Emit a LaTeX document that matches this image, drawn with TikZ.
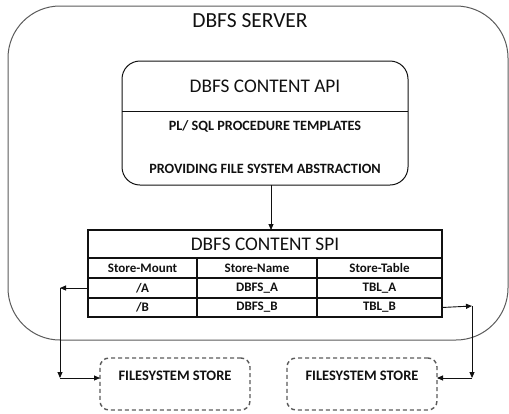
\documentclass[tikz,border=0pt]{standalone}
\usepackage{fontspec}
\setmainfont{Carlito}
\usetikzlibrary{arrows.meta,calc}
\definecolor{frame}{HTML}{5A5A5A}
\definecolor{ink}{HTML}{111111}
\begin{document}
\begin{tikzpicture}[x=1pt,y=-1pt,
  every node/.style={inner sep=0pt,outer sep=0pt,text=ink},
  bigtitle/.style={font=\fontsize{21.5}{24}\selectfont},
  midtitle/.style={font=\fontsize{19.3}{22}\selectfont},
  boldtext/.style={font=\bfseries\fontsize{14.2}{16}\selectfont},
  celltext/.style={font=\bfseries\fontsize{13}{15}\selectfont},
  storetext/.style={font=\bfseries\fontsize{14.5}{16}\selectfont},
  cell/.style={draw=ink,line width=1.1pt,minimum height=20pt},
  storebox/.style={draw=frame,dashed,dash pattern=on 4pt off 3pt,line width=1.4pt,
    rounded corners=9pt,minimum width=150pt,minimum height=52pt},
  link/.style={draw=ink,line width=0.9pt,-{Triangle[length=6pt,width=5pt]}}]
\useasboundingbox (0,0) rectangle (509,413);

% server frame
\node[draw=frame,line width=1pt,rounded corners=52pt,minimum width=500pt,
  minimum height=334pt] (server) at (258,173) {};
\node[bigtitle] (servertitle) at (250,21) {DBFS SERVER};

% content API box
\node[draw=ink,line width=1pt,rounded corners=18pt,minimum width=286pt,
  minimum height=124pt] (api) at (265,123) {};
\draw[ink,line width=1pt] ($(api.north west)+(0,50)$) -- ($(api.north east)+(0,50)$);
\node[midtitle] (apititle) at (265,86) {DBFS CONTENT API};
\node[boldtext] (apiline1) at (265,126) {PL/ SQL PROCEDURE TEMPLATES};
\node[boldtext] (apiline2) at (265,169) {PROVIDING FILE SYSTEM ABSTRACTION};

% content SPI table
\node[cell,minimum width=354pt,minimum height=28pt,midtitle] (spi) at (265,244) {DBFS CONTENT SPI};
\node[cell,minimum width=109pt,celltext] (h1) at (142.5,268) {Store-Mount};
\node[cell,minimum width=120pt,celltext] (h2) at (257,268) {Store-Name};
\node[cell,minimum width=125pt,celltext] (h3) at (379.5,268) {Store-Table};
\node[cell,minimum width=109pt,celltext] (a1) at (142.5,288) {/A};
\node[cell,minimum width=120pt,celltext] (a2) at (257,288) {DBFS\_A};
\node[cell,minimum width=125pt,celltext] (a3) at (379.5,288) {TBL\_A};
\node[cell,minimum width=109pt,minimum height=19pt,celltext] (b1) at (142.5,307.5) {/B};
\node[cell,minimum width=120pt,minimum height=19pt,celltext] (b2) at (257,307.5) {DBFS\_B};
\node[cell,minimum width=125pt,minimum height=19pt,celltext] (b3) at (379.5,307.5) {TBL\_B};

% API to SPI
\coordinate (apix) at (271,0);
\draw[link] (api.south -| apix) -- (spi.north -| apix);

% file system stores
\node[storebox] (fs1) at (175,384) {};
\node[storetext] (fs1text) at (175,376) {FILESYSTEM STORE};
\node[storebox] (fs2) at (362,384) {};
\node[storetext] (fs2text) at (362,376) {FILESYSTEM STORE};

% mount links
\coordinate (l1) at (60,288);
\coordinate (l2) at (60,378);
\draw[link] (a1.west) -- (l1);
\draw[link] (l1) -- (l2);
\draw[link] (l2) -- (l2 -| fs1.west);

\coordinate (r1) at (472,306);
\coordinate (r2) at (472,378);
\draw[link] (b3.east) -- (r1);
\draw[link] (r1) -- (r2);
\draw[link] (r2) -- (r2 -| fs2.east);
\end{tikzpicture}
\end{document}
